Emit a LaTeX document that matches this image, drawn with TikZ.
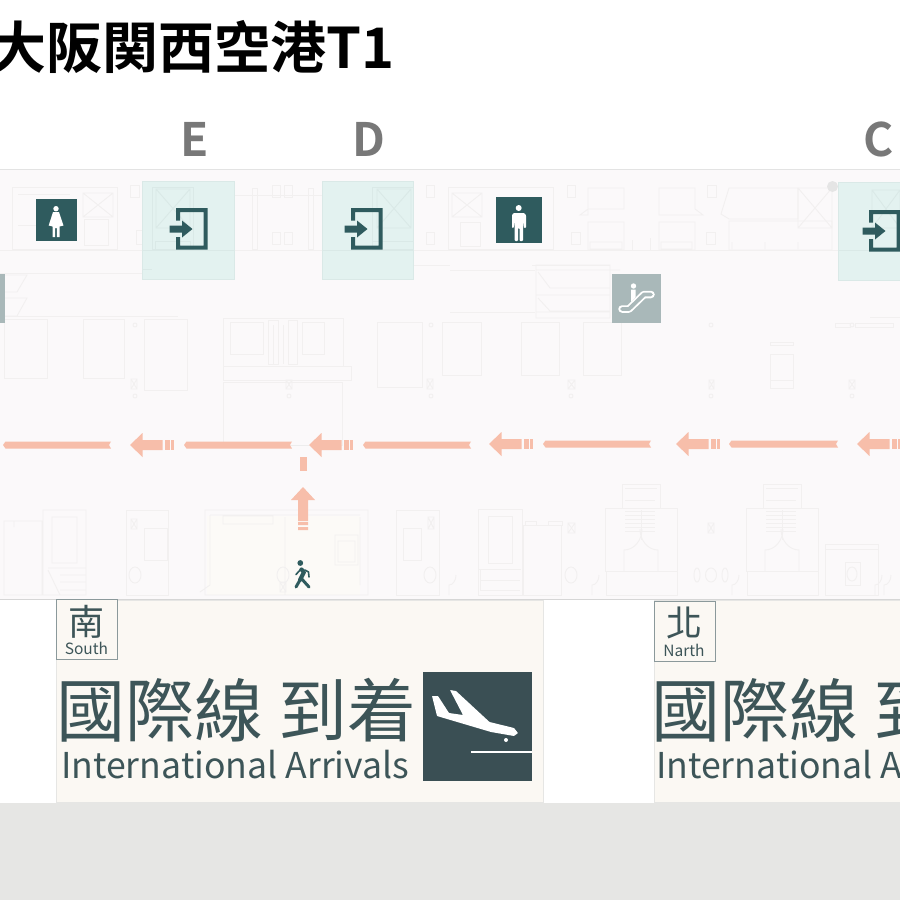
\documentclass[tikz,border=0pt]{standalone}
\usepackage{fontspec}
\setmainfont{Noto Sans CJK TC}
\newfontfamily\boldcjk[BoldFont={Noto Sans CJK TC Bold}]{Noto Sans CJK TC Bold}
\definecolor{planbg}{HTML}{FBF9FA}
\definecolor{planln}{HTML}{F2F0F0}
\definecolor{teal}{HTML}{2F5B5E}
\definecolor{doorbg}{HTML}{E3F2F0}
\definecolor{doorln}{HTML}{DAE9E7}
\definecolor{arrowc}{HTML}{F7BEAA}
\definecolor{signbg}{HTML}{FBF8F3}
\definecolor{signtx}{HTML}{3D5558}
\definecolor{darksq}{HTML}{3A4F54}
\definecolor{floorbg}{HTML}{E6E6E4}
\definecolor{escbg}{HTML}{A9B8B9}
\definecolor{roombg}{HTML}{FCFAF7}
\tikzset{
  pl/.style={draw=planln,line width=0.9pt},
  doorzone/.style={fill=doorbg,draw=doorln,line width=0.8pt},
  gate/.style={font=\boldcjk\fontsize{46}{46}\selectfont,text=black!53,inner sep=0},
  iconbox/.style={fill=teal},
  flow/.style={fill=arrowc},
  sign/.style={fill=signbg,draw=floorbg,line width=0.6pt},
  tagbox/.style={draw=signtx!60,line width=0.6pt,fill=signbg},
  bigcjk/.style={anchor=base west,inner sep=0,text=signtx,font=\fontsize{69}{69}\selectfont},
  bigen/.style={anchor=base west,inner sep=0,text=signtx,font=\fontsize{35.6}{36}\selectfont},
  tagcjk/.style={inner sep=0,text=signtx,font=\fontsize{36}{36}\selectfont},
  tagen/.style={inner sep=0,text=signtx,font=\fontsize{15.5}{16}\selectfont},
}
% left-pointing flow arrow: tip x, y, with fixed proportions
\newcommand{\flowarrow}[2]{%
  \fill[flow] (#1,#2) -- (#1+12.5,#2-12) -- (#1+12.5,#2-5) -- (#1+32.5,#2-5) -- (#1+32.5,#2+5) -- (#1+12.5,#2+5) -- (#1+12.5,#2+12) -- cycle;
  \fill[flow] (#1+34.5,#2-5) rectangle (#1+39.5,#2+5);
  \fill[flow] (#1+41,#2-5) rectangle (#1+43.5,#2+5);
}
\newcommand{\flowbar}[3]{%
  \fill[flow] (#1,#3) -- (#1+2.5,#3-3.5) -- (#2+1,#3-3.5) -- (#2-1,#3) -- (#2+1,#3+3.5) -- (#1+2.5,#3+3.5) -- cycle;
}
\newcommand{\xrect}[4]{%
  \draw[pl] (#1,#2) rectangle (#3,#4) (#1,#2) -- (#3,#4) (#1,#4) -- (#3,#2);
}
% door icon: left x, top y
\newcommand{\dooricon}[2]{%
  \fill[teal] (#1,#2) -- (#1+31.5,#2) -- (#1+31.5,#2+41.5) -- (#1,#2+41.5) -- (#1,#2+29) -- (#1+4,#2+29) -- (#1+4,#2+37.5) -- (#1+27.5,#2+37.5) -- (#1+27.5,#2+4) -- (#1+4,#2+4) -- (#1+4,#2+12.5) -- (#1,#2+12.5) -- cycle;
  \fill[teal] (#1-6.5,#2+17.5) -- (#1+6,#2+17.5) -- (#1+6,#2+12.5) -- (#1+16.5,#2+21) -- (#1+6,#2+29.5) -- (#1+6,#2+24.5) -- (#1-6.5,#2+24.5) -- cycle;
}
\begin{document}
\begin{tikzpicture}[x=1pt,y=-1pt]
\useasboundingbox (0,0) rectangle (900,900);
\fill[white] (0,0) rectangle (900,900);
% plan ground
\fill[planbg] (0,169) rectangle (900,599);
\draw[draw=black!11,line width=1pt] (0,169.5) -- (900,169.5);
\fill[roombg] (207,516) rectangle (360,595);
% plan lines, upper rooms
\draw[pl] (0,250) -- (900,250);
\draw[pl] (0,273) -- (150,273) (0,316) -- (178,316) (532,265) -- (610,265) (450,270) -- (535,270) (450,312) -- (535,312);
\draw[pl] (12,187) rectangle (117,249) (152,187) rectangle (193,249);
\xrect{83}{193}{113}{217}\xrect{156}{189}{190}{228}
\draw[pl] (84,219) rectangle (108,245) (18,194) -- (70,194) (18,225) -- (70,225) (155,241) rectangle (190,249);
\draw[pl] (130,185) rectangle (139,197) (136,230) rectangle (142,244) (272,185) rectangle (280,197) (284,185) rectangle (292,197) (272,232) rectangle (280,244) (284,232) rectangle (292,244);
\draw[pl] (252,188) rectangle (257,249) (308,188) rectangle (313,249) (426,185) rectangle (434,197) (426,232) rectangle (434,244);
\draw[pl] (372,187) rectangle (413,249) (234,195) -- (322,195);
\xrect{377}{189}{411}{228}
\draw[pl] (372,241) -- (413,241) (413,265) -- (450,265);
\xrect{452}{193}{482}{217}
\draw[pl] (448,187) rectangle (553,249) (460,222) rectangle (480,246);
\draw[pl] (567,185) rectangle (575,197) (571,232) rectangle (580,244);
\draw[pl] (588,188) -- (624,188) -- (624,209) -- (588,209) -- (580,215) -- (588,215) -- cycle (588,222) rectangle (624,250) (590,242) rectangle (622,249);
\draw[pl] (659,188) -- (695,188) -- (695,209) -- (703,215) -- (659,215) -- cycle (659,222) rectangle (695,250) (661,242) rectangle (692,249);
\draw[pl] (707,185) rectangle (716,197) (706,232) rectangle (715,244);
\draw[pl] (729,188) -- (798,188) -- (798,219) -- (729,219) -- (721,214) -- cycle (729,221) rectangle (832,250) (732,242) -- (732,249) (765,242) -- (765,249) (798,242) -- (798,249);
\xrect{798}{188}{832}{228}
\draw[pl] (632,250) -- (632,240) (650,250) -- (650,238);
\draw[pl] (866,256) -- (900,256) (870,317) -- (900,317);
\fill[black!10] (832.5,186.5) circle (5.5);
% escalator plan
\draw[pl] (536,265) rectangle (610,318) (536,270) -- (620,270) (536,295) -- (610,295) (536,312) -- (610,312) (538,272) -- (550,288) -- (610,288) (538,298) -- (550,311) -- (610,311);
\draw[pl] (0,275) -- (27,275) -- (17,292) -- (0,292) (0,298) -- (27,298) -- (17,316) -- (0,316);
% plan lines, middle rooms
\draw[pl] (4,319) rectangle (47,378) (83,319) rectangle (124,378) (144,319) rectangle (187,390) (377,322) rectangle (422,387) (442,322) rectangle (481,375) (521,322) rectangle (559,375) (583,322) rectangle (621,375);
\draw[pl] (223,318) rectangle (343,366) (230,322) rectangle (263,354) (268,320) rectangle (278,364) (288,320) rectangle (297,364) (302,322) rectangle (324,354) (223,366) rectangle (351,380) (223,382) rectangle (342,445);
\draw[pl] (273,325) -- (273,364) (283,325) -- (283,364);
\xrect{131}{379}{137}{389}\xrect{286}{380}{292}{389}\xrect{427}{379}{433}{389}\xrect{568}{380}{575}{389}\xrect{709}{380}{714}{389}\xrect{849}{380}{855}{389}
\draw[pl] (770,342) rectangle (793,345) (770,354) rectangle (793,388) (770,380) -- (793,380);
\draw[pl] (835,323) rectangle (850,327) (855,323) rectangle (893,327);
\foreach \cx/\cy in {135/325,135/396,289/396,431/325,431/396,571/396,711/325,711/396,852/325,852/396} \draw[pl] (\cx,\cy) circle (2);
% plan lines, lower rooms
\draw[pl] (4,521) rectangle (42,595) (14,521) -- (14,527) (43,510) rectangle (86,595) (52,517) rectangle (77,563) (48,568) -- (86,568) (48,570) -- (60,595) (60,575) -- (86,575) (60,582) -- (86,582) (60,590) -- (86,590);
\draw[pl] (126,510) rectangle (168,595) (144,528) rectangle (167,560);
\xrect{131}{519}{137}{529}
\draw[pl] (135,575) circle [x radius=6,y radius=8];
\draw[pl] (205,510) rectangle (368,595) (210,515) -- (360,515) (210,515) -- (210,585) -- (200,592) (285,517) -- (285,595) (360,517) -- (360,585) (335,535) rectangle (358,565) (338,541) rectangle (355,562) (223,516) rectangle (273,524);
\draw[pl] (283,575) circle [x radius=6,y radius=8];
\xrect{280}{582}{286}{592}
\draw[pl] (396,510) rectangle (439,595) (403,528) rectangle (421,560);
\xrect{428}{517}{434}{529}
\draw[pl] (430,575) circle [x radius=6,y radius=8];
% second group of stairs
\draw[pl] (478,509) rectangle (522,595) (488,516) rectangle (512,563) (479,569) -- (521,569) (480,570) -- (480,590) (480,580) -- (520,580) (480,590) -- (520,590) (523,525) rectangle (561,595) (525,521) rectangle (536,525) (548,521) rectangle (562,525);
\draw[pl] (571,575) circle [x radius=6,y radius=8];
\xrect{568}{523}{575}{533}
\foreach \ox in {0,141}{
  \draw[pl] (\ox+605,508) rectangle (\ox+677,571) (\ox+622,484) rectangle (\ox+660,508) (\ox+625,488) -- (\ox+657,488);
  \draw[pl] (\ox+625,500) -- (\ox+655,500) (\ox+625,511) -- (\ox+655,511) (\ox+625,515) -- (\ox+655,515) (\ox+625,519) -- (\ox+655,519) (\ox+625,523) -- (\ox+655,523) (\ox+625,527) -- (\ox+655,527) (\ox+625,531) -- (\ox+655,531) (\ox+641,510) -- (\ox+641,540);
  \draw[pl] (\ox+624,571) -- (\ox+624,550) arc (90:0:18 and 21) (\ox+658,571) -- (\ox+658,550) arc (90:180:18 and 21);
  \draw[pl] (\ox+606,571) rectangle (\ox+677,595);
}
\foreach \cx/\r in {697/3,711/5.5,725/3} \draw[pl] (\cx,575) circle [x radius=\r,y radius=7];
\xrect{708}{523}{714}{533}
\draw[pl] (825,544) rectangle (878,595) (826,549) -- (878,549) (845,562) rectangle (860,585);
\draw[pl] (852,574) circle [x radius=5,y radius=7];
\foreach \dx in {449,592,732,875,884}{\draw[pl] (\dx,595) -- (\dx,585) arc (90:0:7 and 10);}
\draw[draw=black!16,line width=1pt] (0,599) -- (900,599);
% door zones
\draw[doorzone] (142,181.5) rectangle (234,279);
\draw[doorzone] (322,181.5) rectangle (413,279);
\draw[doorzone] (838,182) rectangle (910,280);
% plan shapes seen through the zones
\begin{scope}[draw opacity=1]
\colorlet{planln}{doorln}
\xrect{156}{189}{190}{228}
\draw[pl] (152,187) rectangle (193,249) (142,250) -- (234,250) (155,241) rectangle (190,249) (142,269) -- (152,269);
\xrect{377}{189}{411}{228}
\draw[pl] (372,187) rectangle (413,249) (322,250) -- (413,250) (372,241) -- (413,241);
\xrect{872}{190}{900}{228}
\draw[pl] (838,250) -- (900,250);
\end{scope}
% door icons
\dooricon{176}{208}
\dooricon{351}{208}
\dooricon{869}{210}
% toilets
\node[iconbox,minimum width=41pt,minimum height=42pt,inner sep=0,anchor=north west] (women) at (36,199) {};
\fill[white] (56,208.7) circle (2.7);
\fill[white] (53,212) -- (59,212) -- (63.5,225.5) -- (59.5,226.5) -- (59.5,237) -- (56.8,237) -- (56.8,228) -- (55.2,228) -- (55.2,237) -- (52.5,237) -- (52.5,226.5) -- (48.7,225.5) -- cycle;
\node[iconbox,minimum width=46pt,minimum height=46pt,inner sep=0,anchor=north west] (men) at (496,197) {};
\fill[white] (518.7,208) circle (3);
\fill[white,rounded corners=0.8pt] (513.5,213) -- (524,213) -- (526,215) -- (526,228) -- (524,228) -- (523,219) -- (523,241) -- (519.5,241) -- (519.5,228) -- (518,228) -- (518,241) -- (514.7,241) -- (514.7,219) -- (513.7,228) -- (512,228) -- (512,215) -- cycle;
% escalator icon
\fill[escbg] (0,274) rectangle (5,323);
\node[fill=escbg,minimum width=49pt,minimum height=49pt,inner sep=0,anchor=north west] (escal) at (612,274) {};
\draw[white,line width=7.5pt,line cap=round,line join=round] (622,309) -- (629,309) -- (644,294.5) -- (651,294.5);
\draw[escbg,line width=3.8pt,line cap=round,line join=round] (622,309) -- (629,309) -- (644,294.5) -- (651,294.5);
\fill[white] (633.5,286) circle (2.7);
\fill[white] (631,289.5) rectangle (635.5,297) (631,297) -- (635.5,297) -- (631,302) -- cycle;
% gates
\node[gate] (gateE) at (195,139) {E};
\node[gate] (gateD) at (369,139) {D};
\node[gate,anchor=west] (gateC) at (863,139) {C};
% flow arrows
\flowbar{3}{110}{445}
\flowarrow{130}{445}
\flowbar{184}{291}{445}
\draw[draw=black!7,line width=1pt] (291,445) -- (309,445);
\flowarrow{309}{445}
\flowbar{363}{470}{445}
\flowarrow{489}{444}
\flowbar{543}{650}{444}
\flowarrow{676}{444}
\flowbar{729}{837}{444}
\flowarrow{857}{444}
\fill[flow] (300,457) rectangle (307,471);
\fill[flow] (303,487) -- (315,500) -- (308,500) -- (308,521) -- (298,521) -- (298,500) -- (291,500) -- cycle;
\fill[flow] (298,522) rectangle (308,525) (298,527) rectangle (308,530);
% walker
\fill[teal] (300.3,563) circle (2.9);
\draw[teal,line width=4.2pt,line cap=round,line join=round] (301.5,569.5) -- (304,572) -- (300,580);
\draw[teal,line width=3pt,line cap=round,line join=round] (300,580) -- (296,587);
\draw[teal,line width=3pt,line cap=round,line join=round] (301,578) -- (304.5,582) -- (309,587);
\draw[teal,line width=1.6pt,line cap=round,line join=round] (301,569) -- (296,574.5) (305,570) -- (308.5,572) -- (309,577);
% signs
\fill[floorbg] (0,803) rectangle (900,900);
\draw[sign] (56,600) rectangle (543,802.5);
\draw[sign] (654,600) rectangle (910,802.5);
\node[tagbox,minimum width=61pt,minimum height=60pt,inner sep=0,anchor=north west] (tagS) at (56,599) {};
\node[tagcjk] (tagSa) at (86.5,622) {南};
\node[tagen] (tagSb) at (86.5,648) {South};
\node[tagbox,minimum width=61pt,minimum height=60pt,inner sep=0,anchor=north west] (tagN) at (654,601) {};
\node[tagcjk] (tagNa) at (684.5,623) {北};
\node[tagen] (tagNb) at (684,650) {Narth};
\node[bigcjk] (bigS) at (56,736) {國際線 到着};
\node[bigen] (enS) at (61,778) {International Arrivals};
\node[bigcjk] (bigN) at (651,736) {國際線 到着};
\node[bigen] (enN) at (656,778) {International Arrivals};
% plane icon
\node[fill=darksq,minimum width=109pt,minimum height=109pt,inner sep=0,anchor=north west] (arrive) at (423,672) {};
\fill[white,rounded corners=0.6pt] (432,696) -- (438,696) -- (449,713) -- (463,715) -- (450,690) -- (456,691) -- (489.5,722) -- (514,728) -- (518,733) -- (514,736) -- (491,732) -- (437,716) -- cycle;
\fill[white] (506,740) circle (2);
\fill[white] (471,751) rectangle (532,753);
% title
\node[anchor=base west,inner sep=0,font=\boldcjk\fontsize{56}{56}\selectfont,text=black] (title) at (-10,68) {大阪関西空港T1};
\end{tikzpicture}
\end{document}
